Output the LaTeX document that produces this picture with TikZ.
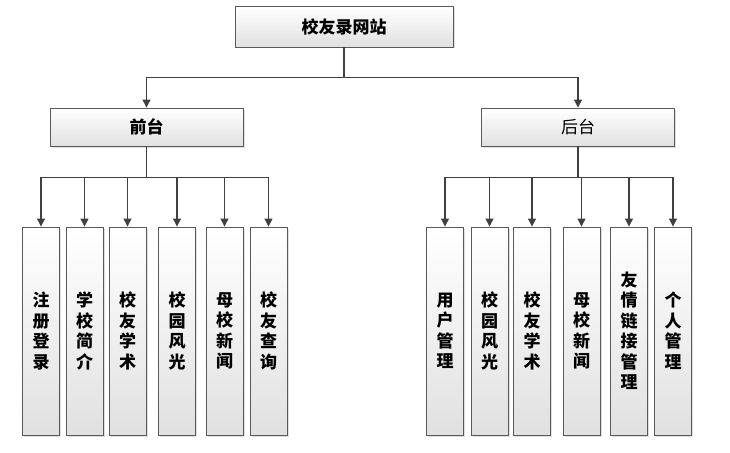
\documentclass[tikz,border=0pt]{standalone}
\usepackage{fontspec}
\usepackage{xcolor}
\usepackage{tikz}
\usetikzlibrary{arrows.meta, positioning, shadows}
\newfontfamily\cjk{Noto Sans CJK SC}
\definecolor{cline}{HTML}{404040}
\definecolor{cbox}{HTML}{595959}

\begin{document}
\begin{tikzpicture}[
    x=1pt, y=-1pt,
    font=\cjk,
    box/.style={rectangle, draw=cbox, line width=0.9pt, top color=white,
                bottom color=black!12, align=center,
                drop shadow={opacity=0.25, shadow xshift=1.5pt, shadow yshift=-1.5pt}},
    head/.style={box, minimum height=41pt, font=\cjk\fontsize{17}{19}\selectfont\bfseries},
    part/.style={box, minimum width=193pt, minimum height=38pt, font=\cjk\fontsize{17}{19}\selectfont},
    leaf/.style={box, minimum width=37pt, minimum height=208pt, inner sep=0pt,
                 font=\cjk\fontsize{17}{20.5}\selectfont\bfseries},
    arr/.style={draw=cline, line width=1.1pt, -{Triangle[width=8pt,length=8pt]}},
]
\useasboundingbox (0,0) rectangle (730,452);

\node[head, minimum width=218pt] (site) at (344,26.5) {校友录网站};
\node[part, font=\cjk\fontsize{17}{19}\selectfont\bfseries] (front) at (146.5,127) {前台};
\node[part] (back) at (578,127) {后台};

% front leaves
\node[leaf] (f1) at (41,331)    {注\\册\\登\\录};
\node[leaf] (f2) at (84.5,331)  {学\\校\\简\\介};
\node[leaf] (f3) at (127.5,331) {校\\友\\学\\术};
\node[leaf] (f4) at (177,331)   {校\\园\\风\\光};
\node[leaf] (f5) at (224.5,331) {母\\校\\新\\闻};
\node[leaf] (f6) at (268.5,331) {校\\友\\查\\询};

% back leaves
\node[leaf] (b1) at (445,331)   {用\\户\\管\\理};
\node[leaf] (b2) at (489.5,331) {校\\园\\风\\光};
\node[leaf] (b3) at (532,331)   {校\\友\\学\\术};
\node[leaf] (b4) at (581.5,331) {母\\校\\新\\闻};
\node[leaf] (b5) at (629,331)   {友\\情\\链\\接\\管\\理};
\node[leaf] (b6) at (673,331)   {个\\人\\管\\理};

\draw[arr] (site.south) -- ++(0,30) -| (front.north);
\draw[arr] (site.south) -- ++(0,30) -| (back.north);
\foreach \i in {1,...,6}{
    \draw[arr] (front.south) -- ++(0,31) -| (f\i.north);
    \draw[arr] (back.south) -- ++(0,31) -| (b\i.north);
}
\end{tikzpicture}
\end{document}
